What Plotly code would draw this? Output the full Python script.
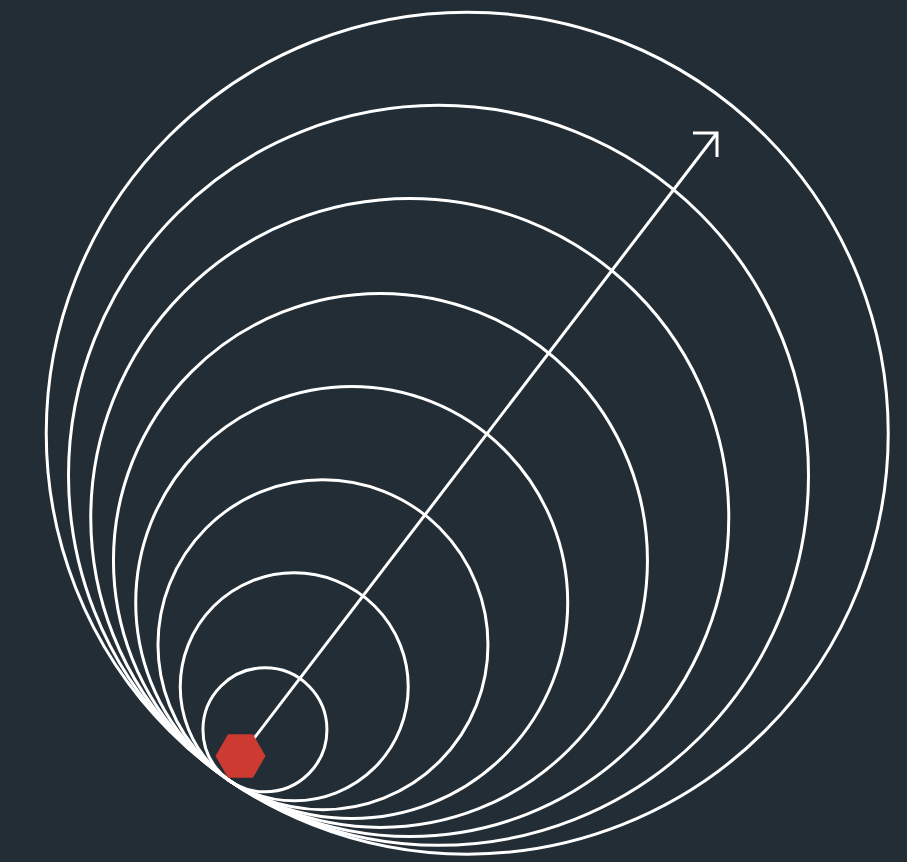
import math
import plotly.graph_objects as go

# Nested circles, all internally tangent at a common point (pixel-space units)
radii = [421, 370, 319, 267, 216, 165, 114, 62]
tangent_point = (230, 781)
center_direction_deg = 55.7  # direction from tangent point toward circle centers (screen-up positive)

# Marker (hexagon) and arrow
hex_center = (240.5, 756)
arrow_tip = (717, 133)
arrow_head_len = 24

BG = "#222d35"
LINE = "#ffffff"
RED = "#cc3a31"

W, H = 907, 862

ux = math.cos(math.radians(center_direction_deg))
uy = -math.sin(math.radians(center_direction_deg))

fig = go.Figure()

shapes = []
for r in radii:
    cx = tangent_point[0] + r * ux
    cy = tangent_point[1] + r * uy
    shapes.append(dict(type="circle", xref="x", yref="y",
                       x0=cx - r, x1=cx + r, y0=cy - r, y1=cy + r,
                       line=dict(color=LINE, width=3), layer="below"))

# Arrow shaft
fig.add_trace(go.Scatter(x=[hex_center[0], arrow_tip[0]], y=[hex_center[1], arrow_tip[1]],
                         mode="lines", line=dict(color=LINE, width=3),
                         hoverinfo="skip", showlegend=False))
# Arrow head (open chevron: horizontal and vertical arms)
fig.add_trace(go.Scatter(x=[arrow_tip[0] - arrow_head_len, arrow_tip[0], arrow_tip[0]],
                         y=[arrow_tip[1], arrow_tip[1], arrow_tip[1] + arrow_head_len],
                         mode="lines", line=dict(color=LINE, width=3),
                         hoverinfo="skip", showlegend=False))
# Hexagon marker
fig.add_trace(go.Scatter(x=[hex_center[0]], y=[hex_center[1]], mode="markers",
                         marker=dict(symbol="hexagon2", size=50, color=RED,
                                     line=dict(width=0)),
                         hoverinfo="skip", showlegend=False))

fig.update_layout(
    width=W, height=H,
    margin=dict(l=0, r=0, t=0, b=0),
    paper_bgcolor=BG, plot_bgcolor=BG,
    shapes=shapes,
    xaxis=dict(range=[0, W], visible=False, showgrid=False, zeroline=False, fixedrange=True),
    yaxis=dict(range=[H, 0], visible=False, showgrid=False, zeroline=False, fixedrange=True),
    showlegend=False,
)

fig.write_html("out.html", config={"displayModeBar": False},
               post_script="document.body.style.margin='0';document.body.style.background='%s';" % BG)
